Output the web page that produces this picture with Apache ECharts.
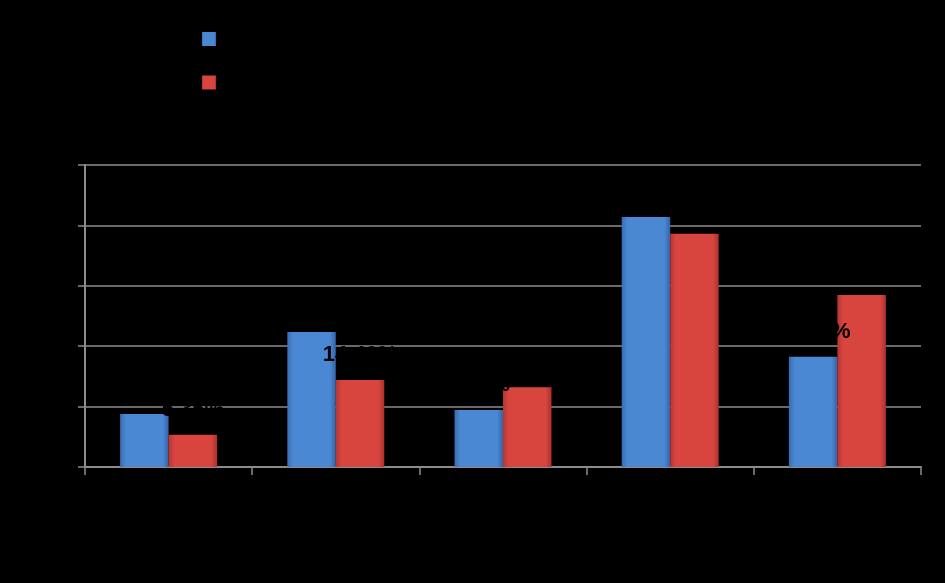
<!DOCTYPE html>
<html>
<head>
<meta charset="utf-8">
<script src="https://cdn.jsdelivr.net/npm/echarts@6/dist/echarts.min.js"></script>
<style>
html,body{margin:0;padding:0;background:#000;}
#chart{width:945px;height:583px;}
</style>
</head>
<body>
<div id="chart"></div>
<script>
var categories = ['Category 1', 'Category 2', 'Category 3', 'Category 4', 'Category 5'];
var seriesNames = ['Series 1', 'Series 2'];
var series1Values = [8.77, 22.35, 9.44, 41.39, 18.26];
var series2Values = [5.35, 14.40, 13.20, 38.63, 28.48];
var yTicks = [0, 10, 20, 30, 40, 50];

function grad(edge, mid, edge2) {
  return new echarts.graphic.LinearGradient(0, 0, 1, 0, [
    {offset: 0, color: edge},
    {offset: 0.12, color: mid},
    {offset: 0.88, color: mid},
    {offset: 1, color: edge2}
  ]);
}

var chart = echarts.init(document.getElementById('chart'), null, {renderer: 'canvas'});
var labelStyle = {
  show: true,
  position: 'top',
  distance: 14,
  color: '#000',
  fontFamily: 'Liberation Sans, Arial, sans-serif',
  fontWeight: 'bold',
  fontSize: 22,
  formatter: function (p) { return p.value.toFixed(2) + '%'; }
};
chart.setOption({
  backgroundColor: '#000',
  animation: false,
  legend: {
    orient: 'vertical',
    left: 197,
    top: 26,
    itemWidth: 14,
    itemHeight: 14,
    itemGap: 27.5,
    icon: 'rect',
    textStyle: {color: '#000', fontSize: 16, fontFamily: 'Liberation Sans, Arial, sans-serif'},
    data: seriesNames
  },
  grid: {left: 85, right: 24, top: 165, bottom: 116, containLabel: false},
  xAxis: {
    type: 'category',
    data: categories,
    axisLine: {lineStyle: {color: '#8c8c8c', width: 2}},
    axisTick: {show: true, length: 8, lineStyle: {color: '#8c8c8c', width: 1.5}},
    axisLabel: {color: '#000', fontSize: 16, fontFamily: 'Liberation Sans, Arial, sans-serif', fontWeight: 'bold'}
  },
  yAxis: {
    type: 'value',
    min: yTicks[0],
    max: yTicks[yTicks.length - 1],
    interval: 10,
    axisLine: {show: true, lineStyle: {color: '#8c8c8c', width: 2}},
    axisTick: {show: true, length: 7, lineStyle: {color: '#8c8c8c', width: 1.5}},
    splitLine: {show: true, lineStyle: {color: '#8c8c8c', width: 1.5}},
    axisLabel: {color: '#000', fontSize: 16, fontFamily: 'Liberation Sans, Arial, sans-serif', fontWeight: 'bold', formatter: '{value}%'}
  },
  series: [
    {
      name: seriesNames[0],
      type: 'bar',
      data: series1Values,
      barGap: '0%',
      barCategoryGap: '42%',
      itemStyle: {color: grad('#3a6cb0', '#4a88d4', '#3563a6')},
      label: labelStyle
    },
    {
      name: seriesNames[1],
      type: 'bar',
      data: series2Values,
      barGap: '0%',
      barCategoryGap: '42%',
      itemStyle: {color: grad('#b53532', '#d8453f', '#ad302d')},
      label: labelStyle
    }
  ]
});
</script>
</body>
</html>
